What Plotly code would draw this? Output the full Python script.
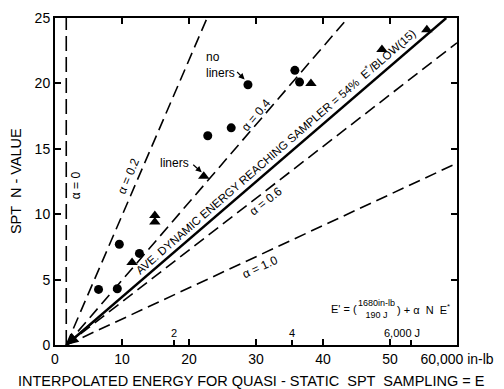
import plotly.graph_objects as go

# ---- data ----
# no liners (circles)
NOLINER_E = [6.5, 9.3, 9.6, 12.6, 22.8, 26.3, 28.8, 35.8, 36.5]
NOLINER_N = [4.25, 4.3, 7.7, 7.0, 16.0, 16.6, 19.9, 21.0, 20.1]
# liners (triangles)
LINER_E = [11.5, 14.9, 14.9, 22.2, 38.2, 48.8, 55.5]
LINER_N = [6.3, 9.9, 9.4, 12.9, 20.0, 22.6, 24.1]

# alpha lines: common start (1680 in-lb, N=0), end points read at plot border
LINE_ALPHA = ["0", "0.2", "0.4", "0.54", "0.6", "1.0"]
LINE_START_E = 1.68
LINE_END_E = [1.68, 22.7, 43.7, 58.4, 60.0, 60.0]
LINE_END_N = [25.0, 25.0, 25.0, 25.0, 23.1, 13.9]

X_TICKS = [0, 10, 20, 30, 40, 50, 60]
X_TICKTEXT = ["0", "10", "20", "30", "40", "50", "60,000 in-lb"]
Y_TICKS = [0, 5, 10, 15, 20, 25]
J_TICKS = [17.7, 35.4, 53.1]          # 2, 4, 6 kJ in thousands of in-lb
J_LABELS = ["2", "4", "6,000 J"]

FONT = "Liberation Sans"
fig = go.Figure()

for a, ee, en in zip(LINE_ALPHA, LINE_END_E, LINE_END_N):
    solid = a == "0.54"
    dash = "solid" if solid else ("15px,6px" if a == "0" else "12px,6px")
    fig.add_trace(go.Scatter(
        x=[LINE_START_E, ee], y=[0, en], mode="lines",
        line=dict(color="black", width=2.4 if solid else 1.6, dash=dash),
        showlegend=False, hoverinfo="skip"))

fig.add_trace(go.Scatter(x=NOLINER_E, y=NOLINER_N, mode="markers",
                         marker=dict(symbol="circle", size=9, color="black"),
                         showlegend=False))
fig.add_trace(go.Scatter(x=LINER_E, y=LINER_N, mode="markers",
                         marker=dict(symbol="triangle-up", size=10, color="black"),
                         showlegend=False))
# secondary joule ticks
fig.add_trace(go.Scatter(x=J_TICKS, y=[0]*3, xaxis="x2", mode="markers",
                         marker=dict(size=0.1, opacity=0), showlegend=False,
                         hoverinfo="skip"))

ann = []
def txt(x, y, t, angle=0, size=12, **kw):
    d = dict(x=x, y=y, text=t, textangle=angle, showarrow=False,
             font=dict(family=FONT, size=size, color="black"))
    d.update(kw)
    ann.append(d)

txt(3.25, 12.2, "α = 0", -90)
txt(11.0, 12.9, "α = 0.2", -67)
txt(30.0, 17.6, "α = 0.4", -50)
txt(32.9, 14.85, "AVE. DYNAMIC ENERGY REACHING SAMPLER = 54%  E<sup>*</sup>/BLOW(15)", -41, 11.5)
txt(31.5, 11.0, "α = 0.6", -38)
txt(30.6, 6.0, "α = 1.0", -25)
txt(22.3, 21.4, "no<br>liners", 0, 12, xanchor="left", align="left")
txt(17.9, 13.9, "liners", 0, 12)
for v, l in zip(J_TICKS, J_LABELS):
    txt(v - (1.3 if l.startswith("6") else 0), 0.9, l, 0, 11)
# formula
txt(45.4, 2.75, "E' = (", 0, 11, xanchor="right")
txt(48.0, 2.75, "1680in-lb<br>190 J", 0, 9)
txt(50.7, 2.75, ") + α  N  E<sup>*</sup>", 0, 11, xanchor="left")

# arrows
ann.append(dict(x=28.3, y=20.3, ax=-9, ay=-9, text="", showarrow=True,
                arrowhead=2, arrowsize=1, arrowwidth=1.2, arrowcolor="black"))
ann.append(dict(x=21.9, y=13.2, ax=-10, ay=-9, text="", showarrow=True,
                arrowhead=2, arrowsize=1, arrowwidth=1.2, arrowcolor="black"))
ann.append(dict(x=LINE_START_E, y=0, ax=6.0, ay=1.9, axref="x", ayref="y",
                text="", showarrow=True, arrowhead=2, arrowsize=1.2,
                arrowwidth=2, arrowcolor="black"))

# axis titles
ann.append(dict(xref="paper", yref="paper", x=-0.098, y=0.5, xanchor="center",
                text="SPT  N - VALUE", textangle=-90, showarrow=False,
                font=dict(family=FONT, size=14.5, color="black")))
ann.append(dict(xref="paper", yref="paper", x=0.49, y=-0.11, yanchor="middle",
                text="INTERPOLATED ENERGY FOR QUASI - STATIC  SPT  SAMPLING = E",
                showarrow=False, font=dict(family=FONT, size=14.5, color="black")))

axcommon = dict(showline=True, linecolor="black", linewidth=2, mirror="ticks",
                ticks="inside", ticklen=6, tickwidth=1.5, tickcolor="black",
                showgrid=False, zeroline=False,
                tickfont=dict(family=FONT, size=14, color="black"))

fig.update_layout(
    width=504, height=389,
    margin=dict(l=55, r=43, t=10, b=44),
    paper_bgcolor="white", plot_bgcolor="white",
    xaxis=dict(range=[0, 60], tickvals=X_TICKS, ticktext=X_TICKTEXT, **axcommon),
    xaxis2=dict(range=[0, 60], overlaying="x", side="bottom", anchor="y",
                tickvals=J_TICKS, ticks="inside", ticklen=5, tickwidth=1.5,
                tickcolor="black", showticklabels=False, showgrid=False,
                zeroline=False, showline=False),
    yaxis=dict(range=[0, 25], tickvals=Y_TICKS, **axcommon),
    annotations=ann,
    showlegend=False,
)

fig.write_html("out.html")
